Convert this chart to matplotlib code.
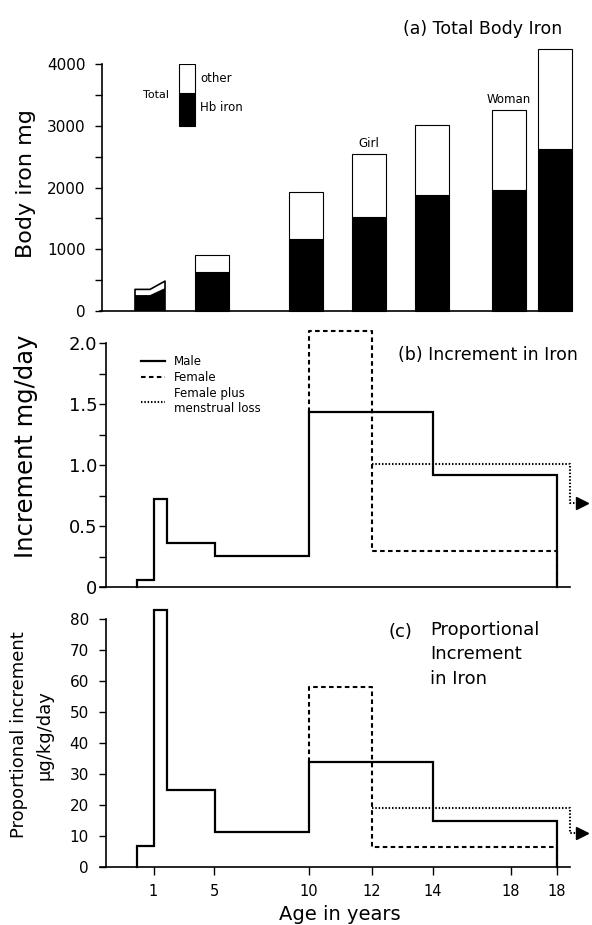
import matplotlib
matplotlib.use('Agg')
import matplotlib.pyplot as plt

# positions along the (non-linear) age axis and their labels
AGE_TICK_POS = [5.35, 11.4, 20.85, 27.2, 33.3, 41.1, 45.7]
AGE_TICK_LABELS = ['1', '5', '10', '12', '14', '18', '18']

# (a) total body iron, mg
bar_x = [11.2, 20.55, 26.9, 33.2, 40.85, 45.5]
bar_total = [900, 1930, 2540, 3020, 3250, 4250]
bar_hb = [635, 1170, 1520, 1880, 1960, 2625]
infant_x = [3.5, 5.0, 6.5]
infant_total = [350, 350, 484]
infant_hb = [258, 258, 371]

# (b) increment mg/day and (c) proportional increment ug/kg/day, as steps
male_edges = [3.65, 5.35, 6.7, 11.45, 20.85, 33.3, 45.7]
male_mg = [0.06, 0.72, 0.36, 0.26, 1.44, 0.92]
male_prop = [7, 83, 25, 11.5, 34, 15]
female_edges = [20.85, 27.2, 45.7]
female_mg = [2.1, 0.30]
female_prop = [58, 6.5]
mens_edges = [27.2, 47.0, 47.7]
mens_mg = [1.01, 0.69]
mens_prop = [19, 11]

FIG_H = 925.0


def step_xy(edges, values, start=None, end=None):
    xs, ys = [], []
    if start is not None:
        xs.append(edges[0]); ys.append(start)
    for i, v in enumerate(values):
        xs += [edges[i], edges[i + 1]]
        ys += [v, v]
    if end is not None:
        xs.append(edges[-1]); ys.append(end)
    return xs, ys


def make_axes(fig, y_zero, y_top):
    # axes placed by pixel rows of the original figure
    ax = fig.add_axes([100 / 592, (FIG_H - y_zero) / FIG_H, 470 / 592, (y_zero - y_top) / FIG_H])
    ax.set_xlim(0, 47)
    for s in ['top', 'right']:
        ax.spines[s].set_visible(False)
    for s in ['left', 'bottom']:
        ax.spines[s].set_linewidth(1.2)
    ax.spines['left'].set_position(('data', 0.5))
    ax.set_facecolor('none')
    return ax


def draw_steps(ax, vals_male, vals_female, vals_mens):
    xs, ys = step_xy(male_edges, vals_male, start=0, end=0)
    l1, = ax.plot(xs, ys, color='black', lw=1.6, solid_joinstyle='miter', clip_on=False, label='Male')
    xs, ys = step_xy(female_edges, vals_female, start=vals_male[4], end=0)
    l2, = ax.plot(xs, ys, color='black', lw=1.5, dashes=(2.2, 1.6), clip_on=False, label='Female')
    xs, ys = step_xy(mens_edges, vals_mens)
    l3, = ax.plot(xs, ys, color='black', lw=1.5, dashes=(0.7, 0.9), clip_on=False,
                  label='Female plus\nmenstrual loss')
    ax.plot([mens_edges[-1] + 0.5], [vals_mens[-1]], marker='>', ms=9, color='black',
            clip_on=False, lw=0)
    return [l1, l2, l3]


fig = plt.figure(figsize=(5.92, 9.25), dpi=100)

# ---- (a) Total Body Iron
ax_a = make_axes(fig, 311, 64)
ax_a.spines['left'].set_position(('data', 0.2))
ax_a.set_ylim(0, 4000)
ax_a.bar(bar_x, bar_hb, width=3.4, color='black', edgecolor='black', lw=0.8, clip_on=False)
ax_a.bar(bar_x, [t - h for t, h in zip(bar_total, bar_hb)], bottom=bar_hb, width=3.4,
         color='white', edgecolor='black', lw=0.8, clip_on=False)
ax_a.fill_between(infant_x, infant_hb, infant_total, color='white', edgecolor='none')
ax_a.fill_between(infant_x, 0, infant_hb, color='black', edgecolor='none')
ax_a.plot([infant_x[0]] + infant_x + [infant_x[-1]], [0] + infant_total + [0], color='black', lw=1.2)
# key
ax_a.bar([8.7], [530], bottom=[3000], width=1.6, color='black', edgecolor='black', lw=0.8)
ax_a.bar([8.7], [470], bottom=[3530], width=1.6, color='white', edgecolor='black', lw=0.8)
ax_a.text(6.9, 3500, 'Total', ha='right', va='center', fontsize=8)
ax_a.text(10.0, 3770, 'other', ha='left', va='center', fontsize=8.5)
ax_a.text(10.0, 3290, 'Hb iron', ha='left', va='center', fontsize=8.5)
ax_a.text(bar_x[2], 2710, 'Girl', ha='center', va='center', fontsize=8.5)
ax_a.text(bar_x[4], 3420, 'Woman', ha='center', va='center', fontsize=8.5)
ax_a.set_yticks(range(0, 4001, 1000))
ax_a.set_yticks(range(500, 4000, 1000), minor=True)
ax_a.set_yticklabels(['0', '1000', '2000', '3000', '4000'])
ax_a.tick_params(axis='y', which='both', length=5, width=1, pad=7, labelsize=11)
ax_a.set_xticks([])
fig.text(562 / 592, 1 - 29 / FIG_H, '(a) Total Body Iron', ha='right', va='center', fontsize=12.5)
fig.text(26 / 592, 1 - 184 / FIG_H, 'Body iron mg', rotation=90, ha='center', va='center', fontsize=16)

# ---- (b) Increment in Iron
ax_b = make_axes(fig, 587.3, 343.3)
ax_b.spines['left'].set_position(('data', 0.55))
ax_b.set_ylim(0, 2.0)
handles = draw_steps(ax_b, male_mg, female_mg, mens_mg)
ax_b.legend(handles=handles, loc='upper left', bbox_to_anchor=(0.087, 0.953), frameon=False,
            fontsize=8.5, handlelength=2.0, handletextpad=0.8, labelspacing=0.25,
            borderpad=0, borderaxespad=0)
ax_b.set_yticks([0, 0.5, 1.0, 1.5, 2.0])
ax_b.set_yticks([0.25, 0.75, 1.25, 1.75], minor=True)
ax_b.set_yticklabels(['0', '0.5', '1.0', '1.5', '2.0'])
ax_b.tick_params(axis='y', which='both', length=5, width=1, pad=1, labelsize=13)
ax_b.set_xticks([])
fig.text(578 / 592, 1 - 355 / FIG_H, '(b) Increment in Iron', ha='right', va='center', fontsize=12.5)
fig.text(26 / 592, 1 - 446 / FIG_H, 'Increment mg/day', rotation=90, ha='center', va='center',
         fontsize=17.5)

# ---- (c) Proportional Increment in Iron
ax_c = make_axes(fig, 867.3, 619)
ax_c.spines['left'].set_position(('data', 0.55))
ax_c.set_ylim(0, 80)
draw_steps(ax_c, male_prop, female_prop, mens_prop)
ax_c.set_yticks(range(0, 81, 10))
ax_c.tick_params(axis='y', length=5, width=1, pad=7, labelsize=11)
ax_c.set_xticks(AGE_TICK_POS)
ax_c.set_xticklabels(AGE_TICK_LABELS)
ax_c.tick_params(axis='x', length=6, width=1, pad=6, labelsize=10.5)
fig.text(389 / 592, 1 - 632 / FIG_H, '(c)', ha='left', va='center', fontsize=13)
fig.text(430 / 592, 1 - 621 / FIG_H, 'Proportional\nIncrement\nin Iron', ha='left', va='top',
         fontsize=13, linespacing=1.45)
fig.text(32 / 592, 1 - 735 / FIG_H, 'Proportional increment\nμg/kg/day', rotation=90,
         ha='center', va='center', multialignment='center', fontsize=13, linespacing=1.5)
fig.text(340 / 592, 1 - 915 / FIG_H, 'Age in years', ha='center', va='center', fontsize=14)

fig.savefig('out.png', dpi=100, facecolor='white')
